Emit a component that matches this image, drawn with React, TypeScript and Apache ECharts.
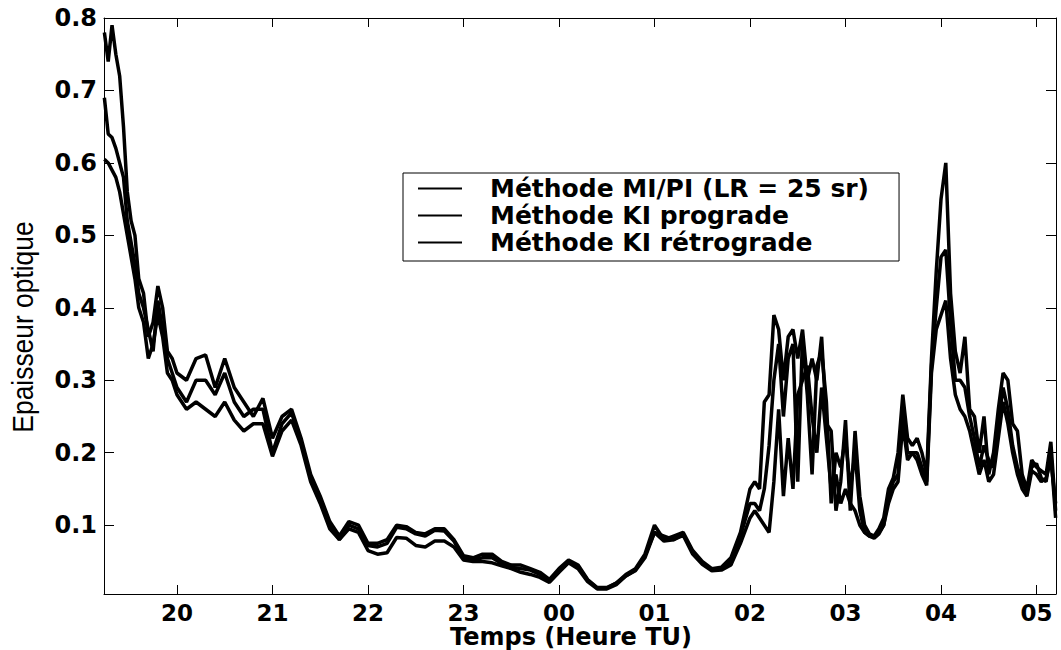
import { useEffect, useRef } from "react";
import * as echarts from "echarts";

// Time in hours (TU); values after midnight are written as 24 + h
const times = [
  19.24, 19.28, 19.32, 19.36, 19.4, 19.44, 19.48, 19.52, 19.56, 19.6, 19.65, 19.7, 19.75, 19.8, 19.85, 19.9, 19.95, 20.0,
  20.1, 20.2, 20.3, 20.4, 20.5, 20.6, 20.7, 20.8, 20.9, 21.0,
  21.1, 21.2, 21.3, 21.4, 21.5, 21.6, 21.7, 21.8, 21.9, 22.0,
  22.1, 22.2, 22.3, 22.4, 22.5, 22.6, 22.7, 22.8, 22.9, 23.0,
  23.1, 23.2, 23.3, 23.4, 23.5, 23.6, 23.7, 23.8, 23.9, 24.0,
  24.1, 24.2, 24.3, 24.4, 24.5, 24.6, 24.7, 24.8, 24.9, 25.0,
  25.1, 25.2, 25.3, 25.4, 25.5, 25.6, 25.7, 25.8, 25.9, 26.0,
  26.05, 26.1, 26.15, 26.2, 26.25, 26.3, 26.35, 26.4, 26.45, 26.5,
  26.55, 26.6, 26.65, 26.7, 26.75, 26.8, 26.85, 26.9, 26.95, 27.0,
  27.05, 27.1, 27.15, 27.2, 27.25, 27.3, 27.35, 27.4, 27.45, 27.5,
  27.55, 27.6, 27.65, 27.7, 27.75, 27.8, 27.85, 27.9, 27.95, 28.0,
  28.05, 28.1, 28.15, 28.2, 28.25, 28.3, 28.35, 28.4, 28.45, 28.5,
  28.55, 28.6, 28.65, 28.7, 28.75, 28.8, 28.85, 28.9, 28.95, 29.0,
  29.05, 29.1, 29.15, 29.2,
];

const miPi = [
  0.78, 0.74, 0.79, 0.75, 0.72, 0.65, 0.56, 0.52, 0.5, 0.44, 0.42, 0.36, 0.38, 0.43, 0.4, 0.34, 0.33, 0.31,
  0.3, 0.33, 0.335, 0.29, 0.33, 0.29, 0.27, 0.25, 0.275, 0.22,
  0.25, 0.26, 0.22, 0.17, 0.14, 0.105, 0.085, 0.105, 0.1, 0.075,
  0.075, 0.08, 0.1, 0.098, 0.09, 0.088, 0.095, 0.095, 0.08, 0.058,
  0.055, 0.06, 0.06, 0.05, 0.045, 0.045, 0.04, 0.035, 0.025, 0.04,
  0.052, 0.045, 0.025, 0.014, 0.014, 0.02, 0.032, 0.04, 0.06, 0.1,
  0.08, 0.085, 0.09, 0.065, 0.05, 0.04, 0.042, 0.055, 0.09, 0.15,
  0.16, 0.15, 0.27, 0.28, 0.39, 0.37, 0.3, 0.36, 0.37, 0.33,
  0.37, 0.3, 0.33, 0.3, 0.36, 0.24, 0.23, 0.12, 0.16, 0.245,
  0.12, 0.23, 0.14, 0.1, 0.088, 0.085, 0.095, 0.11, 0.15, 0.165,
  0.2, 0.28, 0.22, 0.21, 0.22, 0.2, 0.17, 0.33, 0.45, 0.55,
  0.6, 0.42, 0.34, 0.31, 0.36, 0.26, 0.25, 0.2, 0.25, 0.17,
  0.2, 0.26, 0.31, 0.3, 0.24, 0.23, 0.17, 0.15, 0.19, 0.18,
  0.175, 0.17, 0.215, 0.12,
];

const kiPrograde = [
  0.69, 0.64, 0.635, 0.62, 0.6, 0.58, 0.52, 0.49, 0.46, 0.42, 0.4, 0.37, 0.34, 0.41, 0.37, 0.33, 0.31, 0.29,
  0.27, 0.3, 0.3, 0.28, 0.31, 0.27, 0.25, 0.26, 0.26, 0.2,
  0.24, 0.255, 0.215, 0.165, 0.135, 0.1, 0.08, 0.1, 0.095, 0.072,
  0.07, 0.075, 0.097, 0.095, 0.088, 0.085, 0.093, 0.092, 0.078, 0.055,
  0.052, 0.055, 0.055, 0.047, 0.042, 0.04, 0.038, 0.032, 0.024, 0.038,
  0.05, 0.043, 0.024, 0.013, 0.013, 0.02, 0.03, 0.038, 0.058, 0.09,
  0.085, 0.08, 0.088, 0.062, 0.048, 0.038, 0.04, 0.05, 0.085, 0.13,
  0.13, 0.12, 0.15, 0.21, 0.3, 0.35, 0.25, 0.33, 0.35, 0.16,
  0.36, 0.28, 0.17, 0.32, 0.34, 0.27, 0.13, 0.2, 0.18, 0.22,
  0.15, 0.2, 0.12, 0.09, 0.085, 0.085, 0.09, 0.1, 0.14, 0.16,
  0.17, 0.26, 0.2, 0.2, 0.2, 0.18, 0.16, 0.32, 0.4, 0.47,
  0.48, 0.38, 0.3, 0.3, 0.29, 0.25, 0.22, 0.18, 0.21, 0.19,
  0.18, 0.24, 0.29, 0.26, 0.21, 0.18, 0.16, 0.145, 0.18, 0.185,
  0.165, 0.16, 0.2, 0.11,
];

const kiRetrograde = [
  0.605, 0.6, 0.59, 0.58, 0.56, 0.53, 0.5, 0.47, 0.44, 0.4, 0.38, 0.33, 0.35, 0.39, 0.36, 0.31, 0.3, 0.28,
  0.26, 0.27, 0.26, 0.25, 0.27, 0.245, 0.23, 0.24, 0.24, 0.195,
  0.23, 0.245, 0.21, 0.16, 0.13, 0.095, 0.08, 0.095, 0.09, 0.065,
  0.06, 0.062, 0.083, 0.082, 0.072, 0.07, 0.078, 0.078, 0.07, 0.052,
  0.05, 0.05, 0.048, 0.044, 0.04, 0.035, 0.032, 0.028, 0.021, 0.035,
  0.048, 0.04, 0.022, 0.012, 0.012, 0.018, 0.03, 0.037, 0.055, 0.09,
  0.078, 0.08, 0.086, 0.06, 0.046, 0.037, 0.038, 0.045, 0.075, 0.11,
  0.12, 0.11, 0.1, 0.09, 0.16, 0.26, 0.14, 0.22, 0.15, 0.28,
  0.3, 0.32, 0.25, 0.2, 0.29, 0.22, 0.15, 0.17, 0.13, 0.15,
  0.13, 0.12, 0.1, 0.09, 0.085, 0.082, 0.088, 0.1, 0.13, 0.15,
  0.16, 0.24, 0.19, 0.2, 0.19, 0.17, 0.155, 0.31, 0.37, 0.39,
  0.41, 0.33, 0.28, 0.26, 0.25, 0.23, 0.2, 0.17, 0.19, 0.16,
  0.17, 0.22, 0.27, 0.24, 0.2, 0.17, 0.15, 0.14, 0.175, 0.17,
  0.16, 0.165, 0.19, 0.13,
];

const seriesNames = [
  "Méthode MI/PI (LR = 25 sr)",
  "Méthode KI prograde",
  "Méthode KI rétrograde",
];
const hourTicks = [20, 21, 22, 23, 24, 25, 26, 27, 28, 29];
const valueTicks = [0.1, 0.2, 0.3, 0.4, 0.5, 0.6, 0.7, 0.8];

const X_MIN = 19.236;
const X_MAX = 29.204;
const Y_MIN = 0.005;
const Y_MAX = 0.8;

const hourLabel = (v: number) => String(Math.round(v) % 24).padStart(2, "0");

export default function App() {
  const ref = useRef<HTMLDivElement>(null);

  useEffect(() => {
    if (!ref.current) return;
    const chart = echarts.init(ref.current, undefined, { renderer: "svg" });
    const tickFont = {
      fontFamily: "DejaVu Sans",
      fontWeight: "bold" as const,
      fontSize: 23,
      color: "#000",
    };
    const baseAxisLine = { show: true, lineStyle: { color: "#000", width: 1 } };
    const option: any = {
      animation: false,
      backgroundColor: "#fff",
      grid: { left: 104, right: 5, top: 18, bottom: 56, containLabel: false },
      xAxis: [
        {
          type: "value",
          min: X_MIN,
          max: X_MAX,
          position: "bottom",
          axisLine: baseAxisLine,
          axisTick: { show: true, inside: true, length: 9, customValues: hourTicks, lineStyle: { color: "#000" } },
          axisLabel: { ...tickFont, margin: 8, lineHeight: 21, customValues: hourTicks, formatter: hourLabel },
          splitLine: { show: false },
        },
        {
          type: "value",
          min: X_MIN,
          max: X_MAX,
          position: "top",
          axisLine: baseAxisLine,
          axisTick: { show: true, inside: true, length: 9, customValues: hourTicks, lineStyle: { color: "#000" } },
          axisLabel: { show: false },
          splitLine: { show: false },
        },
      ],
      yAxis: [
        {
          type: "value",
          min: Y_MIN,
          max: Y_MAX,
          position: "left",
          axisLine: baseAxisLine,
          axisTick: { show: true, inside: true, length: 10, customValues: valueTicks, lineStyle: { color: "#000" } },
          axisLabel: { ...tickFont, fontSize: 24, margin: 7, customValues: valueTicks, formatter: (v: number) => v.toFixed(1) },
          splitLine: { show: false },
        },
        {
          type: "value",
          min: Y_MIN,
          max: Y_MAX,
          position: "right",
          axisLine: baseAxisLine,
          axisTick: { show: true, inside: true, length: 10, customValues: valueTicks, lineStyle: { color: "#000" } },
          axisLabel: { show: false },
          splitLine: { show: false },
        },
      ],
      legend: {
        orient: "vertical",
        left: 403,
        top: 173,
        padding: [3, 30, 6, 15],
        icon: "rect",
        itemWidth: 44,
        itemHeight: 2,
        itemGap: 2,
        borderColor: "#000",
        borderWidth: 1,
        backgroundColor: "#fff",
        itemStyle: { color: "#000" },
        textStyle: {
          fontFamily: "DejaVu Sans",
          fontWeight: "bold",
          fontSize: 25,
          color: "#000",
          lineHeight: 25,
          padding: [0, 0, 0, 23],
        },
        data: seriesNames,
      },
      graphic: [
        {
          type: "text",
          x: 22,
          y: 327,
          rotation: Math.PI / 2,
          scaleX: 0.88,
          style: {
            text: "Epaisseur optique",
            fontFamily: "Liberation Sans",
            fontSize: 30,
            fill: "#000",
            align: "center",
            verticalAlign: "middle",
          },
        },
        {
          type: "text",
          x: 571,
          y: 637,
          style: {
            text: "Temps (Heure TU)",
            fontFamily: "DejaVu Sans",
            fontWeight: "bold",
            fontSize: 24,
            lineHeight: 24,
            fill: "#000",
            align: "center",
            verticalAlign: "middle",
          },
        },
      ],
      series: [miPi, kiPrograde, kiRetrograde].map((vals, k) => ({
        name: seriesNames[k],
        type: "line",
        xAxisIndex: 0,
        yAxisIndex: 0,
        symbol: "none",
        showSymbol: false,
        color: "#000",
        lineStyle: { color: "#000", width: 3.5 },
        data: times.map((t, i) => [t, vals[i]]),
      })),
    };
    chart.setOption(option);
    return () => chart.dispose();
  }, []);

  return (
    <div
      ref={ref}
      style={{ position: "fixed", left: 0, top: 0, width: 1061, height: 650, background: "#fff" }}
    />
  );
}
